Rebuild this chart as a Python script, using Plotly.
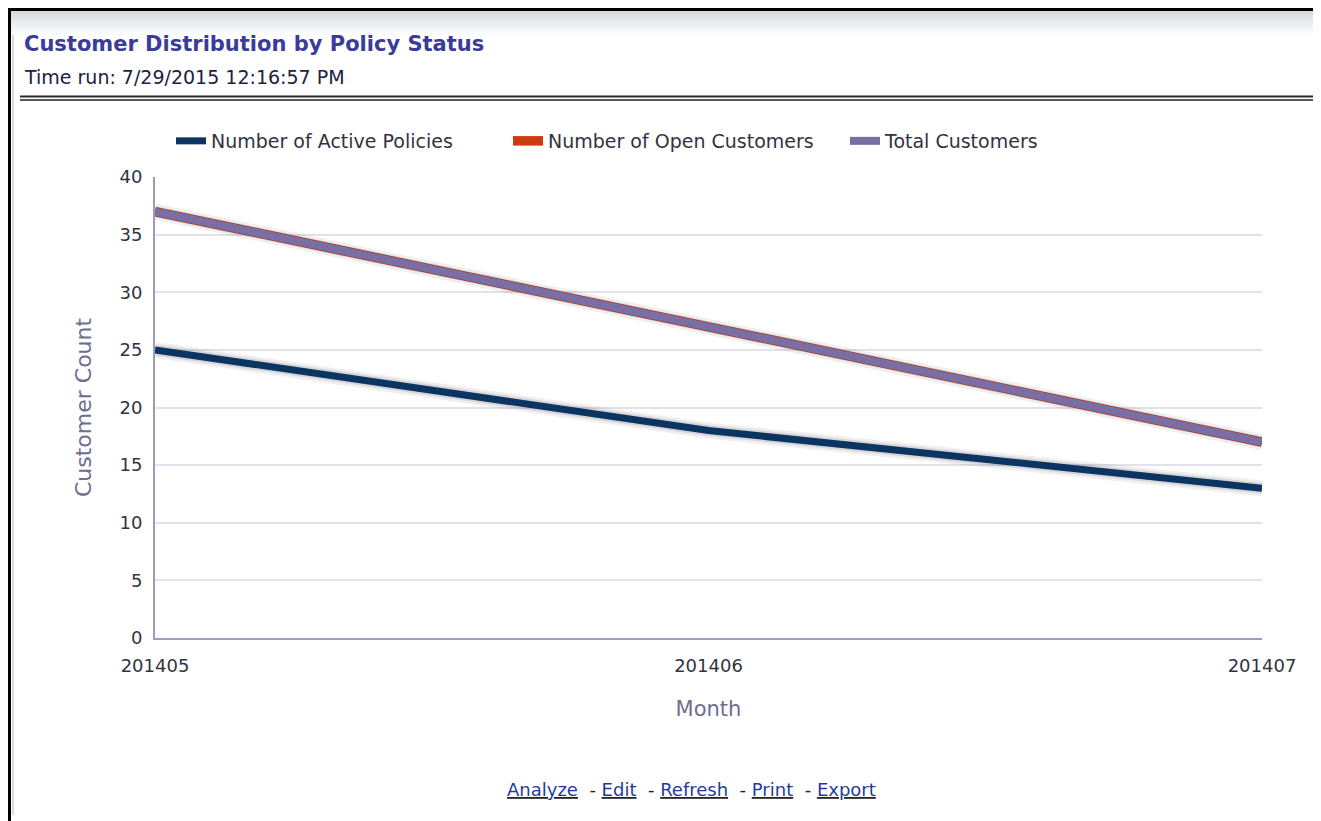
import plotly.graph_objects as go

months = ["201405", "201406", "201407"]
active_policies = [25, 18, 13]
open_customers = [37, 27, 17]
total_customers = [37, 27, 17]

W, H = 1321, 821
OFF = 8  # page margin around the figure
# plot area in page pixels
x0, x1 = 155, 1262
y_top, y_bot = 177, 638

FONT = "DejaVu Sans, Verdana, sans-serif"


def px(x):
    return (x - OFF) / W


def py(y):
    return 1 - (y - OFF) / H


fig = go.Figure()

# open customers sits right under the total line on the main axes
fig.add_trace(go.Scatter(x=months, y=open_customers, mode="lines", name="Number of Open Customers",
                         legendrank=2,
                         line=dict(color="#cc3a10", width=9.5, shape="spline", smoothing=0.3)))

# soft shadows drawn on a slightly shifted copy of the axes (x2/y2)
for ys in (total_customers, active_policies):
    for w, a in ((16, 0.08), (11, 0.13), (6, 0.2)):
        fig.add_trace(go.Scatter(x=months, y=ys, mode="lines", xaxis="x2", yaxis="y2",
                                 line=dict(color=f"rgba(50,50,60,{a})", width=w, shape="spline", smoothing=0.3),
                                 showlegend=False, hoverinfo="skip"))

fig.add_trace(go.Scatter(x=months, y=active_policies, mode="lines", name="Number of Active Policies",
                         xaxis="x3", yaxis="y3", legendrank=1,
                         line=dict(color="#0b3461", width=7, shape="spline", smoothing=0.3)))
fig.add_trace(go.Scatter(x=months, y=total_customers, mode="lines", name="Total Customers",
                         xaxis="x3", yaxis="y3", legendrank=3,
                         line=dict(color="#7a6fa5", width=8, shape="spline", smoothing=0.3)))

axis_font = dict(family=FONT, size=18, color="#333340")
title_col = "#6e6e90"


def overlay_axes(dx, dy, n):
    return {
        f"xaxis{n}": dict(type="category", range=[0, 2], domain=[px(x0 + dx), px(x1 + dx)],
                          overlaying="x", visible=False, anchor=f"y{n}"),
        f"yaxis{n}": dict(range=[0, 40], domain=[py(y_bot + dy), py(y_top + dy)],
                          overlaying="y", visible=False, anchor=f"x{n}"),
    }


fig.update_layout(
    width=W, height=H,
    margin=dict(l=0, r=0, t=0, b=0),
    paper_bgcolor="white", plot_bgcolor="white",
    showlegend=True,
    legend=dict(orientation="h", x=px(171), y=py(141), xanchor="left", yanchor="middle",
                font=dict(family=FONT, size=19, color="#333340"),
                itemwidth=30, entrywidth=292, entrywidthmode="pixels", traceorder="normal",
                tracegroupgap=0, bgcolor="rgba(0,0,0,0)"),
    xaxis=dict(type="category", range=[0, 2], domain=[px(x0), px(x1)], automargin=False,
               showgrid=False, showline=True, linecolor="#9c9cc0", linewidth=2,
               ticks="outside", ticklen=10, tickcolor="rgba(0,0,0,0)", tickfont=axis_font,
               title=dict(text="Month", font=dict(family=FONT, size=21, color=title_col), standoff=27),
               anchor="y"),
    yaxis=dict(range=[0, 40], dtick=5, domain=[py(y_bot), py(y_top)], automargin=False,
               showgrid=True, gridcolor="#e2e2ec", gridwidth=1.5, zeroline=False,
               showline=True, linecolor="#9c9cc0", linewidth=2,
               ticks="outside", ticklen=7, tickcolor="rgba(0,0,0,0)", tickfont=axis_font,
               title=dict(text="Customer Count", font=dict(family=FONT, size=22, color=title_col), standoff=22),
               anchor="x"),
    **overlay_axes(3, 7, 2),
    **overlay_axes(0, 0, 3),
)

shapes = []
# header gradient
steps = 10
for i in range(steps):
    g = int(212 + (255 - 212) * i / (steps - 1))
    shapes.append(dict(type="rect", xref="paper", yref="paper", x0=px(10), x1=1,
                       y0=py(8 + (i + 1) * 3), y1=py(8 + i * 3),
                       fillcolor=f"rgb({g},{min(g + 2, 255)},{min(g + 6, 255)})", line=dict(width=0), layer="below"))
# outer frame
shapes.append(dict(type="line", xref="paper", yref="paper", x0=0, x1=1, y0=py(9.5), y1=py(9.5),
                   line=dict(color="black", width=3)))
shapes.append(dict(type="line", xref="paper", yref="paper", x0=px(9.5), x1=px(9.5), y0=0, y1=py(8),
                   line=dict(color="black", width=3)))
shapes.append(dict(type="line", xref="paper", yref="paper", x0=px(13), x1=px(13), y0=py(815), y1=py(35),
                   line=dict(color="#d6dae6", width=2)))
# double separator line
shapes.append(dict(type="line", xref="paper", yref="paper", x0=px(20), x1=1, y0=py(96.5), y1=py(96.5),
                   line=dict(color="#2a2a2a", width=2)))
shapes.append(dict(type="line", xref="paper", yref="paper", x0=px(20), x1=1, y0=py(100), y1=py(100),
                   line=dict(color="#555555", width=2)))
fig.update_layout(shapes=shapes)

fig.add_annotation(text="<b>Customer Distribution by Policy Status</b>", xref="paper", yref="paper",
                   x=px(22), y=py(44), xanchor="left", yanchor="middle", showarrow=False,
                   font=dict(family=FONT, size=21, color="#3b3b9a"))
fig.add_annotation(text="Time run: 7/29/2015 12:16:57 PM", xref="paper", yref="paper",
                   x=px(22), y=py(77), xanchor="left", yanchor="middle", showarrow=False,
                   font=dict(family=FONT, size=19, color="#1c2240"))

link = "color:#1f3c9c"
footer = (f"<u><span style='{link}'>Analyze</span></u>  - <u><span style='{link}'>Edit</span></u>"
          f"  - <u><span style='{link}'>Refresh</span></u>  - <u><span style='{link}'>Print</span></u>"
          f"  - <u><span style='{link}'>Export</span></u>")
fig.add_annotation(text=footer, xref="paper", yref="paper", x=px(691), y=py(789),
                   xanchor="center", yanchor="middle", showarrow=False,
                   font=dict(family=FONT, size=18, color="#222222"))

fig.write_html("out.html")
